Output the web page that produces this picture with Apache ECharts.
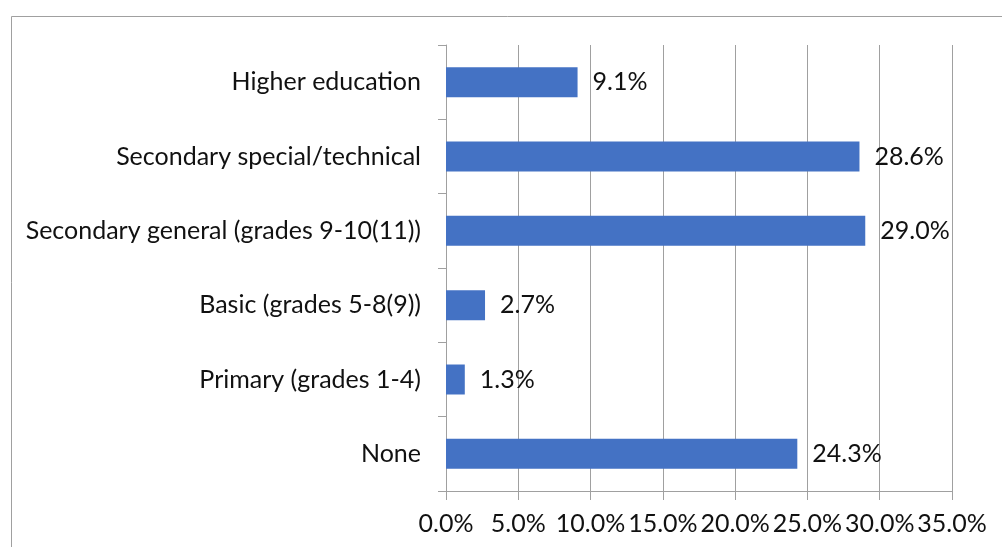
<!DOCTYPE html>
<html><head><meta charset="utf-8">
<script src="https://cdn.jsdelivr.net/npm/echarts@6/dist/echarts.min.js"></script>
<style>html,body{margin:0;padding:0;background:#fff}#c{width:1002px;height:547px}</style>
</head><body><div id="c"></div>
<script>
const categories = ['None','Primary (grades 1-4)','Basic (grades 5-8(9))','Secondary general (grades 9-10(11))','Secondary special/technical','Higher education'];
const values = [24.3, 1.3, 2.7, 29.0, 28.6, 9.1];
const xMin = 0, xMax = 35, xStep = 5;
const FONT = 'Lato';
const chart = echarts.init(document.getElementById('c'), null, {renderer:'canvas'});
chart.setOption({
  animation:false,
  backgroundColor:'#fff',
  graphic:[{type:'rect',shape:{x:11.5,y:16.5,width:1100,height:700},style:{fill:'none',stroke:'#a0a0a0',lineWidth:1},silent:true}],
  grid:{left:446,top:45,right:50,bottom:56,containLabel:false},
  xAxis:{type:'value',min:xMin,max:xMax,interval:xStep,
    axisLine:{show:true,lineStyle:{color:'#a0a0a0',width:1}},
    axisTick:{show:true,length:9,lineStyle:{color:'#a0a0a0'}},
    splitLine:{show:true,lineStyle:{color:'#a0a0a0',width:1}},
    axisLabel:{color:'#111',fontFamily:FONT,fontSize:25,margin:20,formatter:v=>v.toFixed(1)+'%'}},
  yAxis:{type:'category',data:categories,
    axisLine:{show:true,lineStyle:{color:'#a0a0a0',width:1}},
    axisTick:{show:true,length:8,alignWithLabel:false,lineStyle:{color:'#a0a0a0'}},
    axisLabel:{color:'#111',fontFamily:FONT,fontSize:25,margin:25}},
  series:[{type:'bar',data:values,barWidth:30,itemStyle:{color:'#4472C4'},
    label:{show:true,position:'right',distance:15,color:'#111',fontFamily:FONT,fontSize:25,formatter:p=>p.value.toFixed(1)+'%'}}]
});
</script></body></html>
